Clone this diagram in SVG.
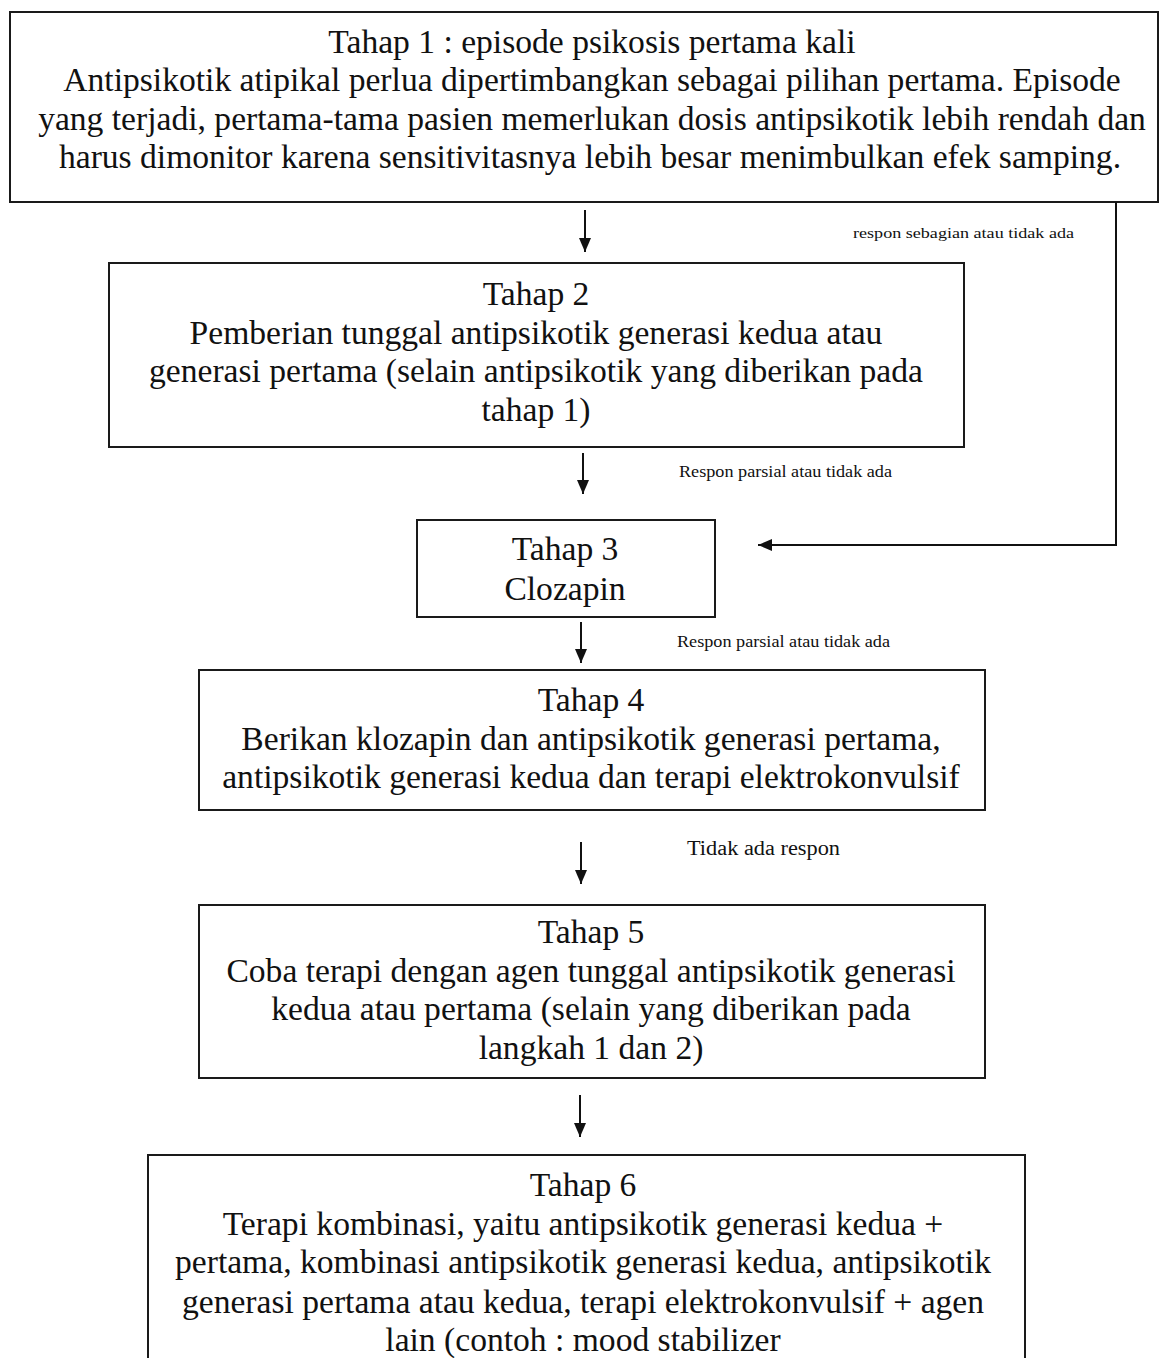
<svg xmlns="http://www.w3.org/2000/svg" width="1168" height="1358" viewBox="0 0 1168 1358">
<style>
.box{fill:#fff;stroke:#1a1a1a;stroke-width:2}
.t{font-family:"Liberation Serif","Times New Roman",serif;font-size:33.6px;fill:#111;text-anchor:middle}
.s{font-family:"Liberation Serif","Times New Roman",serif;fill:#111}
.c{fill:none;stroke:#111;stroke-width:2}
</style>
<defs>
<marker id="ah" viewBox="0 0 14 12" refX="14" refY="6" markerWidth="14" markerHeight="12" markerUnits="userSpaceOnUse" orient="auto">
<path d="M0,0 L14,6 L0,12 z" fill="#111"/>
</marker>
</defs>
<rect width="1168" height="1358" fill="#fff"/>
<g id="tahap1">
<rect class="box" x="10" y="12" width="1148" height="190"/>
<text class="t" x="592" y="53">Tahap 1 : episode psikosis pertama kali</text>
<text class="t" x="592" y="91">Antipsikotik atipikal perlua dipertimbangkan sebagai pilihan pertama. Episode</text>
<text class="t" x="592" y="130">yang terjadi, pertama-tama pasien memerlukan dosis antipsikotik lebih rendah dan</text>
<text class="t" x="590" y="168">harus dimonitor karena sensitivitasnya lebih besar menimbulkan efek samping.</text>
</g>
<g id="tahap2">
<rect class="box" x="109" y="263" width="855" height="184"/>
<text class="t" x="536" y="305">Tahap 2</text>
<text class="t" x="536" y="344">Pemberian tunggal antipsikotik generasi kedua atau</text>
<text class="t" x="536" y="382">generasi pertama (selain antipsikotik yang diberikan pada</text>
<text class="t" x="536" y="421">tahap 1)</text>
</g>
<g id="tahap3">
<rect class="box" x="417" y="520" width="298" height="97"/>
<text class="t" x="565" y="560">Tahap 3</text>
<text class="t" x="565" y="600">Clozapin</text>
</g>
<g id="tahap4">
<rect class="box" x="199" y="670" width="786" height="140"/>
<text class="t" x="591" y="711">Tahap 4</text>
<text class="t" x="591" y="750">Berikan klozapin dan antipsikotik generasi pertama,</text>
<text class="t" x="591" y="788">antipsikotik generasi kedua dan terapi elektrokonvulsif</text>
</g>
<g id="tahap5">
<rect class="box" x="199" y="905" width="786" height="173"/>
<text class="t" x="591" y="943">Tahap 5</text>
<text class="t" x="591" y="982">Coba terapi dengan agen tunggal antipsikotik generasi</text>
<text class="t" x="591" y="1020">kedua atau pertama (selain yang diberikan pada</text>
<text class="t" x="591" y="1059">langkah 1 dan 2)</text>
</g>
<g id="tahap6">
<rect class="box" x="148" y="1155" width="877" height="240"/>
<text class="t" x="583" y="1196">Tahap 6</text>
<text class="t" x="583" y="1235">Terapi kombinasi, yaitu antipsikotik generasi kedua +</text>
<text class="t" x="583" y="1273">pertama, kombinasi antipsikotik generasi kedua, antipsikotik</text>
<text class="t" x="583" y="1313">generasi pertama atau kedua, terapi elektrokonvulsif + agen</text>
<text class="t" x="583" y="1351">lain (contoh : mood stabilizer</text>
</g>
<g id="connectors">
<line class="c" x1="585" y1="210" x2="585" y2="252" marker-end="url(#ah)"/>
<line class="c" x1="583" y1="453" x2="583" y2="494" marker-end="url(#ah)"/>
<line class="c" x1="581" y1="622" x2="581" y2="663" marker-end="url(#ah)"/>
<line class="c" x1="581" y1="842" x2="581" y2="884" marker-end="url(#ah)"/>
<line class="c" x1="580" y1="1095" x2="580" y2="1137" marker-end="url(#ah)"/>
<polyline class="c" points="1116,202 1116,545 758,545" marker-end="url(#ah)"/>
<text class="s" x="853" y="238" font-size="14" textLength="221" lengthAdjust="spacingAndGlyphs">respon sebagian atau tidak ada</text>
<text class="s" x="679" y="477" font-size="16" textLength="213" lengthAdjust="spacingAndGlyphs">Respon parsial atau tidak ada</text>
<text class="s" x="677" y="647" font-size="16" textLength="213" lengthAdjust="spacingAndGlyphs">Respon parsial atau tidak ada</text>
<text class="s" x="687" y="855" font-size="20" textLength="153" lengthAdjust="spacingAndGlyphs">Tidak ada respon</text>
</g>
</svg>
